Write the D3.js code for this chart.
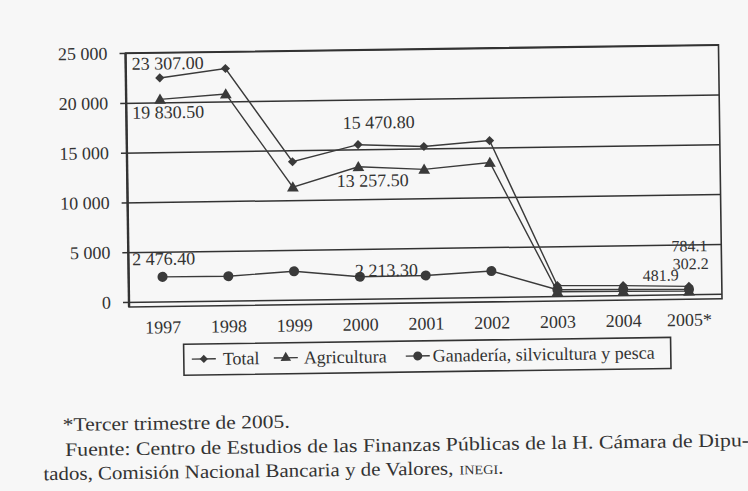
<!DOCTYPE html>
<html><head><meta charset="utf-8">
<script src="https://cdn.jsdelivr.net/npm/d3@7/dist/d3.min.js"></script>
<style>body{margin:0;background:#f7f7f7}svg{display:block}</style>
</head><body>
<svg id="c" width="748" height="491"></svg>
<script>
// ---------- data ----------
const years = ["1997","1998","1999","2000","2001","2002","2003","2004","2005*"];
const total = [22450, 23307, 13850, 15470.8, 15200, 15700, 1050, 950, 784.1];
const agricultura = [20300, 20750, 11300, 13257.5, 12900, 13500, 420, 380, 302.2];
const ganaderia = [2476.4, 2450, 2850, 2213.3, 2250, 2600, 630, 570, 481.9];
const seriesNames = ["Total", "Agricultura", "Ganadería, silvicultura y pesca"];
const yTicks = [0, 5000, 10000, 15000, 20000, 25000];
const yTickLabels = ["0", "5 000", "10 000", "15 000", "20 000", "25 000"];
const labelTexts = ["23 307.00", "19 830.50", "15 470.80", "13 257.50", "2 476.40", "2 213.30", "784.1", "302.2", "481.9"];
const labelSeries = [0, 1, 0, 1, 2, 2, 0, 1, 2];
const labelIndex = [0, 0, 3, 3, 0, 3, 8, 8, 8];
const notes = ["*Tercer trimestre de 2005.",
  "Fuente: Centro de Estudios de las Finanzas Públicas de la H. Cámara de Dipu-",
  "tados, Comisión Nacional Bancaria y de Valores,"];
const notesSmallCaps = "inegi.";

// ---------- layout ----------
const L = 130, R = 722, T = 53, Z = 302, B = 307;
const ink = "#333";
const font = "Liberation Serif";
const labelOffsets = [[-28,-8.5],[-28,19],[-15,-16],[-22,20],[-30,-12],[-5,0],[-17,-35],[-16,-22],[-46,-9]];
const labelSizes = [18,18,18,18,18,18,16,16,16];

const svg = d3.select("#c");
const root = svg.append("g").attr("transform", "rotate(-0.8,128,302)");

const x = d3.scaleBand().domain(years).range([L, R]);
const xc = d => x(d) + x.bandwidth() / 2;
const y = d3.scaleLinear().domain([0, 25000]).range([Z, T]);

// gridlines + y ticks
const yAxis = d3.axisLeft(y).tickValues(yTicks).tickSize(-(R - L) - 7).tickPadding(12)
  .tickFormat((d, i) => yTickLabels[i]);
const ga = root.append("g").attr("transform", `translate(${L},0)`).call(yAxis);
ga.attr("font-family", font);
ga.select(".domain").remove();
ga.selectAll(".tick line").attr("x1", -7).attr("x2", R - L).attr("stroke", ink).attr("stroke-width", 1.5);
ga.selectAll(".tick text").attr("font-family", font).attr("font-size", 18).attr("fill", ink).attr("x", -19);

// frame
root.append("rect").attr("x", L - 1).attr("y", T).attr("width", R - L + 1).attr("height", B - T)
  .attr("fill", "none").attr("stroke", ink).attr("stroke-width", 1.6);
root.append("line").attr("x1", L - 1).attr("x2", L - 1).attr("y1", T).attr("y2", B)
  .attr("stroke", ink).attr("stroke-width", 2.4);

// x axis labels
const xAxis = d3.axisBottom(x).tickSize(0).tickPadding(14);
const gx = root.append("g").attr("transform", `translate(0,${B})`).call(xAxis);
gx.attr("font-family", font);
gx.select(".domain").remove();
gx.selectAll(".tick text").attr("font-family", font).attr("font-size", 18).attr("fill", ink);

// series
const series = [total, agricultura, ganaderia];
const shapes = [d3.symbolSquare, d3.symbolTriangle, d3.symbolCircle];
const sizes = [42, 60, 80];
const rot = [45, 0, 0];
const line = d3.line().x((d, i) => xc(years[i])).y(d => y(d));
series.forEach((s, k) => {
  root.append("path").datum(s).attr("d", line).attr("fill", "none").attr("stroke", "#3a3a3a").attr("stroke-width", 1.4);
});
series.forEach((s, k) => {
  root.selectAll(null).data(s).enter().append("path")
    .attr("d", d3.symbol().type(shapes[k]).size(sizes[k]))
    .attr("transform", (d, i) => `translate(${xc(years[i])},${y(d) + (k === 1 ? 1 : 0)}) rotate(${rot[k]})`)
    .attr("fill", "#3a3a3a");
});

// data labels
root.selectAll(null).data(labelTexts).enter().append("text")
  .attr("x", (t, i) => xc(years[labelIndex[i]]) + labelOffsets[i][0])
  .attr("y", (t, i) => y(series[labelSeries[i]][labelIndex[i]]) + labelOffsets[i][1])
  .attr("font-family", font).attr("font-size", (t, i) => labelSizes[i]).attr("fill", ink).text(t => t);

// legend
const lg = root.append("g");
lg.append("rect").attr("x", 183).attr("y", 345).attr("width", 487).attr("height", 31)
  .attr("fill", "none").attr("stroke", ink).attr("stroke-width", 1.6);
const legX = [203, 285, 417], legTX = [222, 303, 432];
seriesNames.forEach((n, k) => {
  lg.append("line").attr("x1", legX[k] - 12).attr("x2", legX[k] + 12).attr("y1", 360).attr("y2", 360)
    .attr("stroke", "#3a3a3a").attr("stroke-width", 1.4);
  lg.append("path").attr("d", d3.symbol().type(shapes[k]).size(sizes[k] * 0.8))
    .attr("transform", `translate(${legX[k]},360) rotate(${rot[k]})`).attr("fill", "#3a3a3a");
  lg.append("text").attr("x", legTX[k]).attr("y", 366).attr("font-family", font).attr("font-size", 18)
    .attr("fill", ink).text(n);
});

// footnotes
const noteX = [61, 63, 41], noteY = [430, 455, 479], noteW = [227, 684, 410];
notes.forEach((n, i) => {
  root.append("text").attr("x", noteX[i]).attr("y", noteY[i]).attr("font-family", font)
    .attr("font-size", 19).attr("fill", ink).attr("textLength", noteW[i]).attr("lengthAdjust", "spacingAndGlyphs").text(n);
});
root.append("text").attr("x", 41 + 410 + 6).attr("y", 479).attr("font-family", font).attr("font-size", 19)
  .attr("fill", ink).style("font-variant", "small-caps").attr("textLength", 44).attr("lengthAdjust", "spacingAndGlyphs").text(notesSmallCaps);
</script>
</body></html>
